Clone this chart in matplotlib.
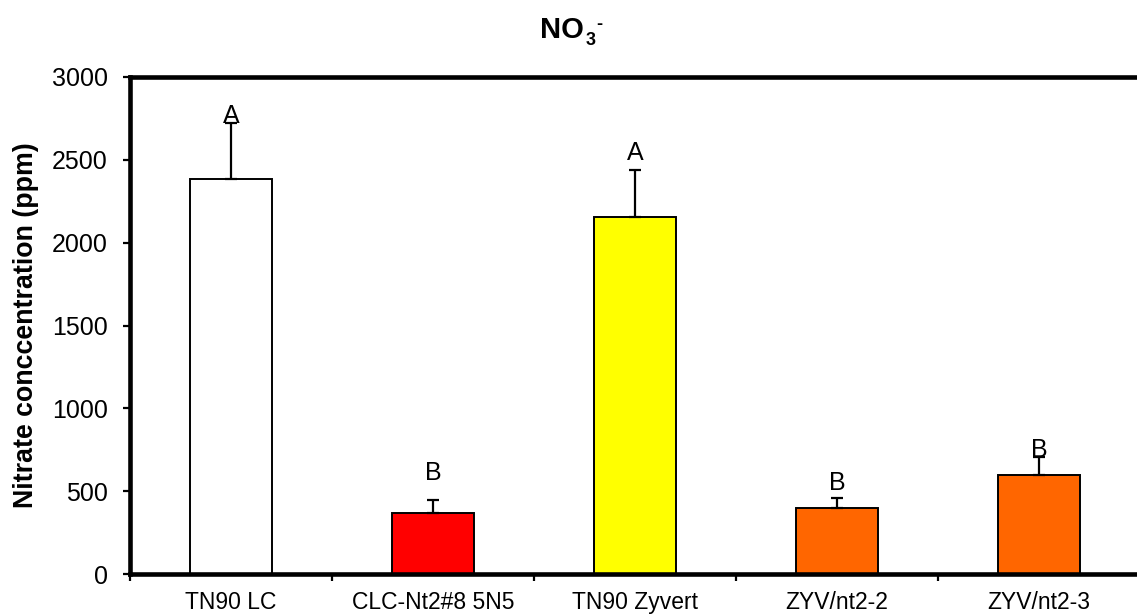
import matplotlib
matplotlib.use("Agg")
import matplotlib.pyplot as plt
import numpy as np

categories = ["TN90 LC", "CLC-Nt2#8 5N5", "TN90 Zyvert", "ZYV/nt2-2", "ZYV/nt2-3"]
values = [2385, 368, 2155, 400, 597]
errors = [335, 80, 282, 60, 112]
letters = ["A", "B", "A", "B", "B"]
letter_heights = [2725, 567, 2499, 507, 708]
colors = ["#FFFFFF", "#FF0000", "#FFFF00", "#FF6600", "#FF6600"]
yticks = [0, 500, 1000, 1500, 2000, 2500, 3000]

plt.rcParams['font.family'] = ['Liberation Sans', 'DejaVu Sans']

W, H = 1137, 616
fig = plt.figure(figsize=(W / 100, H / 100), dpi=100)
ax = fig.add_axes([130 / W, (H - 574) / H, 1010 / W, 497 / H])

x = np.arange(len(categories))
ax.bar(x, values, width=0.405, color=colors, edgecolor='black', linewidth=1.4, zorder=2)
ax.errorbar(x, values, yerr=[np.zeros(len(values)), errors], fmt='none',
            ecolor='black', elinewidth=1.6, capsize=4, capthick=1.6, zorder=3)

for xi, lab, lh in zip(x, letters, letter_heights):
    ax.text(xi, lh, lab, ha='center', va='baseline', fontsize=18, zorder=4)

ax.set_xlim(-0.5, len(categories) - 0.5)
ax.set_ylim(0, 3000)
ax.set_yticks(yticks)
ax.set_yticklabels([str(v) for v in yticks], fontsize=18)
ax.tick_params(axis='y', direction='out', length=5, width=1.6, pad=11)

ax.set_xticks(x)
ax.set_xticklabels(categories, fontsize=16.5)
ax.tick_params(axis='x', which='major', length=0, pad=12.5)
ax.set_xticks(np.arange(-0.5, len(categories), 1.0), minor=True)
ax.tick_params(axis='x', which='minor', direction='out', length=5, width=1.6)

for side in ['left', 'top', 'bottom', 'right']:
    ax.spines[side].set_linewidth(3.3)

ax.set_ylabel("Nitrate conccentration (ppm)", fontsize=19.3, fontweight='bold')
ax.yaxis.set_label_coords(-0.090, 0.5)

# Title NO3-
t_no = fig.text(540 / W, 1 - 38 / H, "NO", fontsize=21, fontweight='bold',
                ha='left', va='baseline')
t_sub = ax.annotate("3", xy=(1, 0), xycoords=t_no, xytext=(1.5, -0.8),
                    textcoords='offset points', fontsize=13, fontweight='bold',
                    ha='left', va='baseline', annotation_clip=False)
ax.annotate("-", xy=(1, 1), xycoords=(t_sub, t_no), xytext=(0.3, -6),
            textcoords='offset points', fontsize=13, fontweight='bold',
            ha='left', va='center', annotation_clip=False)

fig.savefig("out.png", dpi=100)
